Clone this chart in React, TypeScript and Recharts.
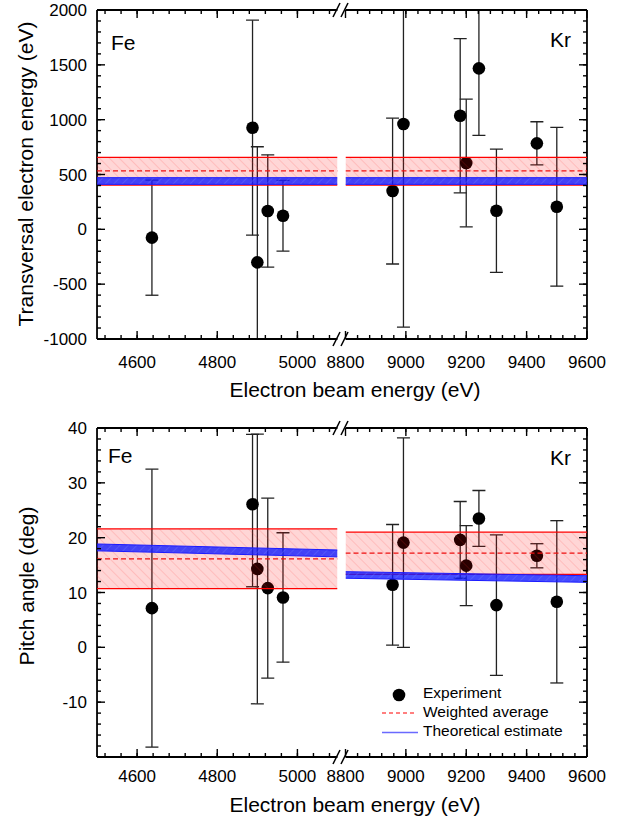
import { Area, ComposedChart, ErrorBar, Line, Scatter, XAxis, YAxis } from 'recharts'

// values
const feEnergy = [4637, 4888, 4900, 4926, 4964]
const krEnergy = [8956, 8992, 9180, 9200, 9242, 9300, 9434, 9500]

const feTransverse = [-76, 927, -301, 167, 124]
const feTransverseErr = [525, 980, 1054, 512, 322]
const krTransverse = [349, 960, 1036, 605, 1468, 170, 784, 206]
const krTransverseErr = [665, 1851, 703, 582, 611, 562, 197, 724]

const fePitch = [7.15, 26.1, 14.3, 10.8, 9.1]
const fePitchErr: Array<[number, number]> = [
  [25.35, 25.35],
  [15.05, 12.75],
  [24.6, 24.6],
  [16.4, 16.4],
  [11.8, 11.8],
]
const krPitch = [11.4, 19.1, 19.6, 14.9, 23.5, 7.7, 16.7, 8.3]
const krPitchErr = [11.0, 19.1, 7.0, 7.3, 5.1, 12.8, 2.2, 14.8]

// weighted average: [low, mean, high]
const transAvgFe = [404, 533, 657]
const transAvgKr = [404, 533, 657]
const pitchAvgFe = [10.7, 16.15, 21.6]
const pitchAvgKr = [13.3, 17.2, 21.0]

// theoretical estimate band at segment start and end: [low, high]
const transTheoryFe = [[410, 471], [410, 471]]
const transTheoryKr = [[410, 471], [410, 471]]
const pitchTheoryFe = [[17.6, 18.85], [16.5, 17.75]]
const pitchTheoryKr = [[12.6, 13.8], [11.85, 13.06]]

const feRange = [4500, 5100]
const krRange = [8800, 9600]
const feTicks = [4600, 4800, 5000]
const krTicks = [8800, 9000, 9200, 9400, 9600]
const transRange = [-1000, 2000]
const transTicks = [-1000, -500, 0, 500, 1000, 1500, 2000]
const pitchRange = [-20, 40]
const pitchTicks = [-10, 0, 10, 20, 30, 40]

const steps = (from: number, to: number, step: number) => {
  const out: number[] = []
  for (let v = from; v <= to + 1e-9; v += step) out.push(v)
  return out
}

const FONT = '"Liberation Sans", Arial, sans-serif'
const axisStyle = { stroke: '#000', strokeWidth: 1.8 }
const THIN = 0.01 // axes must have a non-zero size to be drawn
type Side = 'top' | 'bottom' | 'left' | 'right'

// inward tick mark (Origin style) with the label kept outside the frame
const tickMark = (side: Side, len: number, labelGap?: number) => (props: any) => {
  const { x, y, payload } = props
  const dx = side === 'left' ? len : side === 'right' ? -len : 0
  const dy = side === 'top' ? len : side === 'bottom' ? -len : 0
  return (
    <g>
      <line x1={x} y1={y} x2={x + dx} y2={y + dy} stroke="#000" strokeWidth={1.4} />
      {labelGap != null && side === 'bottom' && (
        <text x={x} y={y + labelGap} textAnchor="middle" fontSize={17} fontFamily={FONT} fill="#000">
          {payload.value}
        </text>
      )}
      {labelGap != null && side === 'left' && (
        <text x={x - labelGap} y={y + 6} textAnchor="end" fontSize={17} fontFamily={FONT} fill="#000">
          {payload.value}
        </text>
      )}
    </g>
  )
}

type Pair = number | [number, number]

interface SegmentProps {
  id: string
  left: number
  top: number
  width: number
  height: number
  margin: { top: number; right: number; bottom: number; left: number }
  side: 'left' | 'right'
  xRange: number[]
  xTicks: number[]
  xMinor: number[]
  yRange: number[]
  yTicks: number[]
  yMinor: number[]
  xs: number[]
  ys: number[]
  errs: Pair[]
  avg: number[]
  theory: number[][]
  xLabelGap: number
}

function Segment(p: SegmentProps) {
  const points = p.xs.map((x, i) => ({ x, y: p.ys[i], err: p.errs[i] }))
  const avgBand = p.xRange.map((x) => ({ x, band: [p.avg[0], p.avg[2]], mean: p.avg[1] }))
  const theoryBand = p.xRange.map((x, i) => ({ x, band: p.theory[i] }))
  const redId = `red-${p.id}`
  const blueId = `blue-${p.id}`
  const clipId = `clip-${p.id}`
  const m = p.margin
  const common = { type: 'number' as const, allowDataOverflow: true, interval: 0 as const, tickSize: 0, tickMargin: 0, tickLine: false }
  return (
    <div style={{ position: 'absolute', left: p.left, top: p.top }}>
      <ComposedChart width={p.width} height={p.height} margin={m}>
        <defs>
          <clipPath id={clipId}>
            <rect x={m.left} y={m.top} width={p.width - m.left - m.right} height={p.height - m.top - m.bottom} />
          </clipPath>
          <pattern id={redId} patternUnits="userSpaceOnUse" width="7" height="7" patternTransform="rotate(-45)">
            <rect width="7" height="7" fill="rgba(255,0,0,0.16)" />
            <line x1="0" y1="0" x2="0" y2="7" stroke="rgba(255,40,40,0.22)" strokeWidth="1.4" />
          </pattern>
          <pattern id={blueId} patternUnits="userSpaceOnUse" width="6" height="6" patternTransform="rotate(45)">
            <rect width="6" height="6" fill="rgba(20,30,255,0.8)" />
            <line x1="0" y1="0" x2="0" y2="6" stroke="rgba(120,130,255,0.6)" strokeWidth="1" />
          </pattern>
        </defs>
        <XAxis
          {...common}
          xAxisId="b"
          dataKey="x"
          domain={p.xRange}
          ticks={p.xTicks}
          height={THIN}
          axisLine={axisStyle}
          tick={tickMark('bottom', 8, p.xLabelGap)}
        />
        <XAxis
          {...common}
          xAxisId="bm"
          dataKey="x"
          domain={p.xRange}
          ticks={p.xMinor}
          height={THIN}
          axisLine={false}
          tick={tickMark('bottom', 4)}
        />
        <XAxis
          {...common}
          xAxisId="t"
          orientation="top"
          dataKey="x"
          domain={p.xRange}
          ticks={p.xTicks}
          height={THIN}
          axisLine={axisStyle}
          tick={tickMark('top', 8)}
        />
        <XAxis
          {...common}
          xAxisId="tm"
          orientation="top"
          dataKey="x"
          domain={p.xRange}
          ticks={p.xMinor}
          height={THIN}
          axisLine={false}
          tick={tickMark('top', 4)}
        />
        <YAxis
          {...common}
          yAxisId="y"
          orientation={p.side}
          domain={p.yRange}
          ticks={p.yTicks}
          width={THIN}
          axisLine={axisStyle}
          tick={tickMark(p.side, 8, p.side === 'left' ? 10 : undefined)}
        />
        <YAxis
          {...common}
          yAxisId="ym"
          orientation={p.side}
          domain={p.yRange}
          ticks={p.yMinor}
          width={THIN}
          axisLine={false}
          tick={tickMark(p.side, 4)}
        />
        <Scatter
          xAxisId="b"
          yAxisId="y"
          data={points}
          dataKey="y"
          isAnimationActive={false}
          shape={(s: any) => <circle cx={s.cx} cy={s.cy} r={6.3} fill="#000" />}
        >
          <ErrorBar
            dataKey="err"
            direction="y"
            width={6.5}
            stroke="#222"
            strokeWidth={1.3}
            clipPath={`url(#${clipId})`}
          />
        </Scatter>
        <Area
          xAxisId="b"
          yAxisId="y"
          data={avgBand}
          dataKey="band"
          type="linear"
          stroke="#ff0000"
          strokeWidth={1.2}
          fill={`url(#${redId})`}
          fillOpacity={1}
          dot={false}
          activeDot={false}
          isAnimationActive={false}
          zIndex={700}
        />
        <Area
          xAxisId="b"
          yAxisId="y"
          data={theoryBand}
          dataKey="band"
          type="linear"
          stroke="#1a1aff"
          strokeWidth={1}
          fill={`url(#${blueId})`}
          fillOpacity={1}
          dot={false}
          activeDot={false}
          isAnimationActive={false}
          zIndex={710}
        />
        <Line
          xAxisId="b"
          yAxisId="y"
          data={avgBand}
          dataKey="mean"
          type="linear"
          stroke="#ee1111"
          strokeWidth={1.2}
          strokeDasharray="5 3"
          dot={false}
          activeDot={false}
          isAnimationActive={false}
          zIndex={720}
        />
      </ComposedChart>
    </div>
  )
}

function BreakMarks({ y }: { y: number }) {
  return (
    <g stroke="#000" strokeWidth={1.5}>
      <line x1={333} y1={y + 7} x2={340} y2={y - 7} />
      <line x1={341} y1={y + 7} x2={348} y2={y - 7} />
    </g>
  )
}

export default function App() {
  const feMinor = steps(4520, 5080, 40)
  const krMinor = steps(8840, 9560, 40)
  const transMinor = steps(-900, 1900, 100)
  const pitchMinor = steps(-18, 38, 2)

  const topMargin = { top: 10, bottom: 61 }
  const botMargin = { top: 18, bottom: 53 }

  return (
    <div style={{ position: 'absolute', left: 0, top: 0, width: 627, height: 820, background: '#fff', fontFamily: FONT }}>
      <Segment
        id="tfe"
        left={0}
        top={0}
        width={350}
        height={400}
        margin={{ ...topMargin, left: 97, right: 12.5 }}
        side="left"
        xRange={feRange}
        xTicks={feTicks}
        xMinor={feMinor}
        yRange={transRange}
        yTicks={transTicks}
        yMinor={transMinor}
        xs={feEnergy}
        ys={feTransverse}
        errs={feTransverseErr}
        avg={transAvgFe}
        theory={transTheoryFe}
        xLabelGap={29}
      />
      <Segment
        id="tkr"
        left={300}
        top={0}
        width={327}
        height={400}
        margin={{ ...topMargin, left: 45.5, right: 40 }}
        side="right"
        xRange={krRange}
        xTicks={krTicks}
        xMinor={krMinor}
        yRange={transRange}
        yTicks={transTicks}
        yMinor={transMinor}
        xs={krEnergy}
        ys={krTransverse}
        errs={krTransverseErr}
        avg={transAvgKr}
        theory={transTheoryKr}
        xLabelGap={29}
      />
      <Segment
        id="bfe"
        left={0}
        top={410}
        width={350}
        height={400}
        margin={{ ...botMargin, left: 97, right: 12.5 }}
        side="left"
        xRange={feRange}
        xTicks={feTicks}
        xMinor={feMinor}
        yRange={pitchRange}
        yTicks={pitchTicks}
        yMinor={pitchMinor}
        xs={feEnergy}
        ys={fePitch}
        errs={fePitchErr}
        avg={pitchAvgFe}
        theory={pitchTheoryFe}
        xLabelGap={25}
      />
      <Segment
        id="bkr"
        left={300}
        top={410}
        width={327}
        height={400}
        margin={{ ...botMargin, left: 45.5, right: 40 }}
        side="right"
        xRange={krRange}
        xTicks={krTicks}
        xMinor={krMinor}
        yRange={pitchRange}
        yTicks={pitchTicks}
        yMinor={pitchMinor}
        xs={krEnergy}
        ys={krPitch}
        errs={krPitchErr}
        avg={pitchAvgKr}
        theory={pitchTheoryKr}
        xLabelGap={25}
      />
      <svg
        width={627}
        height={820}
        style={{ position: 'absolute', left: 0, top: 0, pointerEvents: 'none' }}
        fontFamily={FONT}
      >
        <BreakMarks y={10} />
        <BreakMarks y={339} />
        <BreakMarks y={428} />
        <BreakMarks y={757} />

        <text x={111} y={50} fontSize={21}>Fe</text>
        <text x={550} y={47} fontSize={21}>Kr</text>
        <text x={108} y={463} fontSize={21}>Fe</text>
        <text x={550} y={465} fontSize={21}>Kr</text>

        <text x={355} y={397} fontSize={21} textAnchor="middle">Electron beam energy (eV)</text>
        <text x={355} y={812} fontSize={21} textAnchor="middle">Electron beam energy (eV)</text>
        <text transform="translate(33,174) rotate(-90)" fontSize={21} textAnchor="middle">
          Transversal electron energy (eV)
        </text>
        <text transform="translate(34,586) rotate(-90)" fontSize={21} textAnchor="middle">
          Pitch angle (deg)
        </text>

        <circle cx={399} cy={695} r={6.3} fill="#000" />
        <text x={423} y={698} fontSize={15.5}>Experiment</text>
        <line x1={382} y1={713} x2={417} y2={713} stroke="#ff0000" strokeWidth={1.2} strokeDasharray="4 3" />
        <text x={423} y={717} fontSize={15.5}>Weighted average</text>
        <line x1={382} y1={732.5} x2={418} y2={732.5} stroke="#6a6aff" strokeWidth={1.5} />
        <text x={423} y={736} fontSize={15.5}>Theoretical estimate</text>
      </svg>
    </div>
  )
}
